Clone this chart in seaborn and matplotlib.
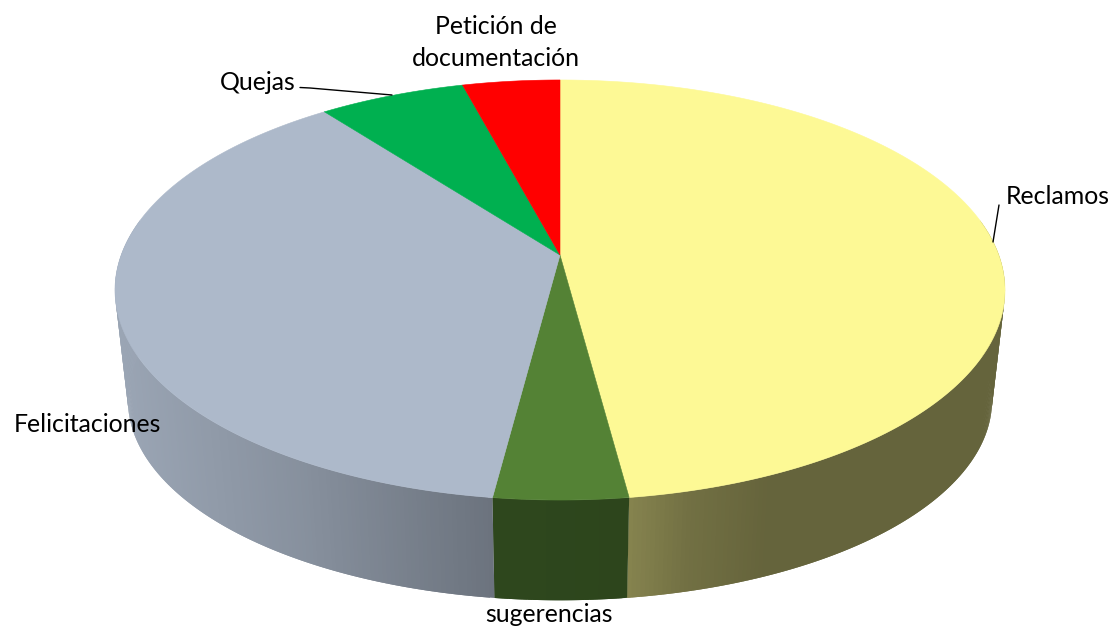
import numpy as np
import seaborn as sns
import matplotlib
matplotlib.use("Agg")
import matplotlib.pyplot as plt
from matplotlib.collections import PolyCollection
from matplotlib.colors import to_rgb

categories = ["Reclamos", "sugerencias", "Felicitaciones", "Quejas", "Petición de\ndocumentación"]
values = [47.9, 4.15, 37.55, 6.25, 4.15]
top_colors = ["#fdf995", "#548235", "#adb9ca", "#00b050", "#ff0000"]
# wall brightness of each slice: (pixel x, factor) stops
wall_stops = [
    ([628, 690, 770, 1000], [0.53, 0.45, 0.40, 0.40]),
    ([490, 630], [0.55, 0.53]),
    ([120, 300, 495], [0.89, 0.78, 0.62]),
    ([300, 470], [0.6, 0.6]),
    ([460, 560], [0.6, 0.6]),
]

sns.set_theme(style="white")
plt.rcParams["font.family"] = ["Lato", "DejaVu Sans"]

W, H = 1114, 626
fig = plt.figure(figsize=(W / 100, H / 100), dpi=100)
ax = fig.add_axes([0, 0, 1, 1])
ax.set_xlim(0, W)
ax.set_ylim(H, 0)
ax.axis("off")

P = 1 / 6
CX = 560


def project(theta, A, B, Y0):
    """theta: clockwise angle from the far point of the disc."""
    x, y = np.sin(theta), np.cos(theta)
    w = 1 + P * y
    return CX + A * x / w, Y0 - B * y / w


TOP = dict(A=438.8, B=204.2, Y0=255)
BOTTOM = dict(A=426.0, B=194.4, Y0=367)

edges = np.radians(np.concatenate([[0], np.cumsum(values)]) / sum(values) * 360)

# walls: only the near side of the disc shows
for i in range(len(values)):
    lo = max(edges[i], np.radians(80))
    hi = min(edges[i + 1], np.radians(280))
    if hi <= lo:
        continue
    th = np.linspace(lo, hi, max(8, int(np.degrees(hi - lo) * 2)))
    xt, yt = project(th, **TOP)
    xb, yb = project(th, **BOTTOM)
    quads, cols = [], []
    base = np.array(to_rgb(top_colors[i]))
    sx, sf = wall_stops[i]
    for j in range(len(th) - 1):
        k = min(j + 2, len(th) - 1)  # overlap the next quad to hide seams
        quads.append([(xt[j], yt[j]), (xt[k], yt[k]), (xb[k], yb[k]), (xb[j], yb[j])])
        cols.append(base * np.interp((xt[j] + xt[j + 1]) / 2, sx, sf))
    ax.add_collection(PolyCollection(quads, facecolors=cols, edgecolors="none", linewidths=0, zorder=2 + i * 0.01))

# top face
cy0 = TOP["Y0"]
for i in range(len(values)):
    th = np.linspace(edges[i], edges[i + 1], 200)
    xt, yt = project(th, **TOP)
    ax.fill(np.r_[CX, xt], np.r_[cy0, yt], facecolor=top_colors[i], edgecolor=top_colors[i], lw=0.4, zorder=3)

# labels
FS = 17.9
ax.text(1006, 197, categories[0], fontsize=FS, color="black", va="center", ha="left", zorder=5)
ax.text(549, 614, categories[1], fontsize=FS, color="black", va="center", ha="center", zorder=5)
ax.text(14, 425, categories[2], fontsize=FS, color="black", va="center", ha="left", zorder=5)
ax.text(220, 82, categories[3], fontsize=FS, color="black", va="center", ha="left", zorder=5)
ax.text(496, 42.5, categories[4], fontsize=FS, color="black", va="center", ha="center",
        linespacing=1.5, multialignment="center", zorder=5)

# leader lines
ax.plot([300, 310, 392], [87.5, 88, 95], color="black", lw=1, zorder=4)
ax.plot([999, 993], [205, 242], color="black", lw=1, zorder=4)

fig.savefig("out.png", dpi=100, facecolor="white")
